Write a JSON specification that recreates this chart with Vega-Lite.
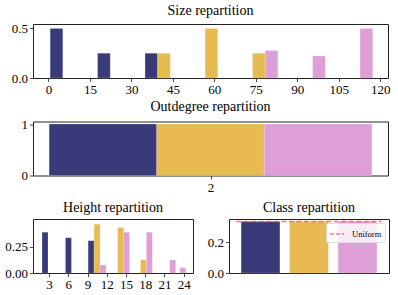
{
  "$schema": "https://vega.github.io/schema/vega-lite/v6.json",
  "padding": {"top": 3, "left": 4, "right": 0, "bottom": 0},
  "background": "white",
  "bounds": "flush",
  "spacing": 43.5,
  "config": {
    "font": "Liberation Serif",
    "view": {"stroke": "#222", "strokeWidth": 1},
    "title": {"font": "Liberation Serif", "fontSize": 14, "fontWeight": "normal", "offset": 4, "color": "#000"},
    "axis": {"labelFont": "Liberation Serif", "labelFontSize": 13, "labelColor": "#000", "tickColor": "#222", "tickSize": 3.5, "tickWidth": 0.8, "labelPadding": 2, "domain": false, "grid": false, "title": null, "labelFlush": false, "labelOverlap": false},
    "axisX": {"labelAngle": 0},
    "bar": {"stroke": "white", "strokeWidth": 0.3, "strokeOpacity": 0.6}
  },
  "datasets": {
    "size": [
      {"cls": "a", "x0": 0.60, "x1": 5.17, "y": 0.5},
      {"cls": "a", "x0": 17.76, "x1": 22.33, "y": 0.25},
      {"cls": "a", "x0": 34.92, "x1": 39.49, "y": 0.25},
      {"cls": "b", "x0": 39.49, "x1": 44.07, "y": 0.25},
      {"cls": "b", "x0": 56.65, "x1": 61.23, "y": 0.5},
      {"cls": "b", "x0": 73.81, "x1": 78.39, "y": 0.25},
      {"cls": "c", "x0": 78.39, "x1": 82.96, "y": 0.2778},
      {"cls": "c", "x0": 95.55, "x1": 100.12, "y": 0.2222},
      {"cls": "c", "x0": 112.71, "x1": 117.28, "y": 0.5}
    ],
    "outdegree": [
      {"cls": "a", "x0": 1.6, "x1": 1.8667, "y": 1},
      {"cls": "b", "x0": 1.8667, "x1": 2.1333, "y": 1},
      {"cls": "c", "x0": 2.1333, "x1": 2.4, "y": 1}
    ],
    "height": [
      {"cls": "a", "x0": 1.91, "x1": 2.84, "y": 0.385},
      {"cls": "a", "x0": 5.56, "x1": 6.49, "y": 0.333},
      {"cls": "a", "x0": 9.10, "x1": 10.03, "y": 0.305},
      {"cls": "b", "x0": 10.03, "x1": 10.96, "y": 0.46},
      {"cls": "b", "x0": 13.70, "x1": 14.63, "y": 0.43},
      {"cls": "b", "x0": 17.25, "x1": 18.18, "y": 0.125},
      {"cls": "c", "x0": 10.96, "x1": 11.89, "y": 0.075},
      {"cls": "c", "x0": 14.63, "x1": 15.56, "y": 0.385},
      {"cls": "c", "x0": 18.18, "x1": 19.11, "y": 0.385},
      {"cls": "c", "x0": 21.82, "x1": 22.75, "y": 0.125},
      {"cls": "c", "x0": 23.39, "x1": 24.32, "y": 0.05}
    ],
    "klass": [
      {"cls": "a", "x0": -0.4, "x1": 0.4, "y": 0.3333},
      {"cls": "b", "x0": 0.6, "x1": 1.4, "y": 0.3333},
      {"cls": "c", "x0": 1.6, "x1": 2.4, "y": 0.3333}
    ],
    "uniform": [
      {"label": "Uniform", "x0": -0.5, "x1": 2.5, "y": 0.3333}
    ]
  },
  "resolve": {"scale": {"stroke": "independent"}, "legend": {"stroke": "independent"}},
  "vconcat": [
    {
      "title": "Size repartition",
      "width": 355,
      "height": 54,
      "data": {"name": "size"},
      "mark": {"type": "bar"},
      "encoding": {
        "x": {"field": "x0", "type": "quantitative", "scale": {"domain": [-5.6, 122.8], "nice": false, "zero": false}, "axis": {"values": [0, 15, 30, 45, 60, 75, 90, 105, 120]}},
        "x2": {"field": "x1"},
        "y": {"field": "y", "type": "quantitative", "scale": {"domain": [0, 0.545], "nice": false}, "axis": {"values": [0, 0.5], "format": ".1f"}},
        "y2": {"datum": 0},
        "color": {"field": "cls", "type": "nominal", "scale": {"domain": ["a", "b", "c"], "range": ["#393b79", "#e7ba52", "#de9ed6"]}, "legend": null}
      }
    },
    {
      "title": "Outdegree repartition",
      "width": 355,
      "height": 54,
      "data": {"name": "outdegree"},
      "mark": {"type": "bar"},
      "encoding": {
        "x": {"field": "x0", "type": "quantitative", "scale": {"domain": [1.56, 2.44], "nice": false, "zero": false}, "axis": {"values": [2], "format": "d"}},
        "x2": {"field": "x1"},
        "y": {"field": "y", "type": "quantitative", "scale": {"domain": [0, 1.05], "nice": false}, "axis": {"values": [0, 1], "format": "d"}},
        "y2": {"datum": 0},
        "color": {"field": "cls", "type": "nominal", "scale": {"domain": ["a", "b", "c"], "range": ["#393b79", "#e7ba52", "#de9ed6"]}, "legend": null}
      }
    },
    {
      "bounds": "flush",
      "spacing": 36,
      "resolve": {"scale": {"stroke": "independent"}, "legend": {"stroke": "independent"}},
      "hconcat": [
        {
          "title": "Height repartition",
          "width": 160,
          "height": 54,
          "data": {"name": "height"},
          "mark": {"type": "bar"},
          "encoding": {
            "x": {"field": "x0", "type": "quantitative", "scale": {"domain": [0.5, 25.45], "nice": false, "zero": false}, "axis": {"values": [3, 6, 9, 12, 15, 18, 21, 24], "format": "d"}},
            "x2": {"field": "x1"},
            "y": {"field": "y", "type": "quantitative", "scale": {"domain": [0, 0.51], "nice": false}, "axis": {"values": [0, 0.25], "format": ".2f"}},
            "y2": {"datum": 0},
            "color": {"field": "cls", "type": "nominal", "scale": {"domain": ["a", "b", "c"], "range": ["#393b79", "#e7ba52", "#de9ed6"]}, "legend": null}
          }
        },
        {
          "title": "Class repartition",
          "width": 160,
          "height": 54,
          "layer": [
            {
              "data": {"name": "klass"},
              "mark": {"type": "bar"},
              "encoding": {
                "x": {"field": "x0", "type": "quantitative", "scale": {"domain": [-0.65, 2.65], "nice": false, "zero": false}, "axis": null},
                "x2": {"field": "x1"},
                "y": {"field": "y", "type": "quantitative", "scale": {"domain": [0, 0.35], "nice": false}, "axis": {"values": [0, 0.2], "format": ".1f"}},
                "y2": {"datum": 0},
                "color": {"field": "cls", "type": "nominal", "scale": {"domain": ["a", "b", "c"], "range": ["#393b79", "#e7ba52", "#de9ed6"]}, "legend": null}
              }
            },
            {
              "data": {"name": "uniform"},
              "mark": {"type": "rule", "strokeWidth": 1.5, "strokeDash": [5, 2.5], "opacity": 0.75},
              "encoding": {
                "x": {"field": "x0", "type": "quantitative"},
                "x2": {"field": "x1"},
                "y": {"field": "y", "type": "quantitative"},
                "stroke": {"field": "label", "type": "nominal", "scale": {"domain": ["Uniform"], "range": ["#ff4d4d"]},
                  "legend": {"title": null, "orient": "top-right", "offset": 4, "padding": 3, "fillColor": "rgba(255,255,255,0.8)", "strokeColor": "#dddddd", "cornerRadius": 2, "labelFont": "Liberation Serif", "labelFontSize": 8.5, "labelColor": "#000", "symbolType": "stroke", "symbolSize": 196, "symbolStrokeWidth": 1.5, "symbolDash": [4, 2], "symbolOpacity": 0.75, "labelOffset": 7}}
              }
            }
          ]
        }
      ]
    }
  ]
}
